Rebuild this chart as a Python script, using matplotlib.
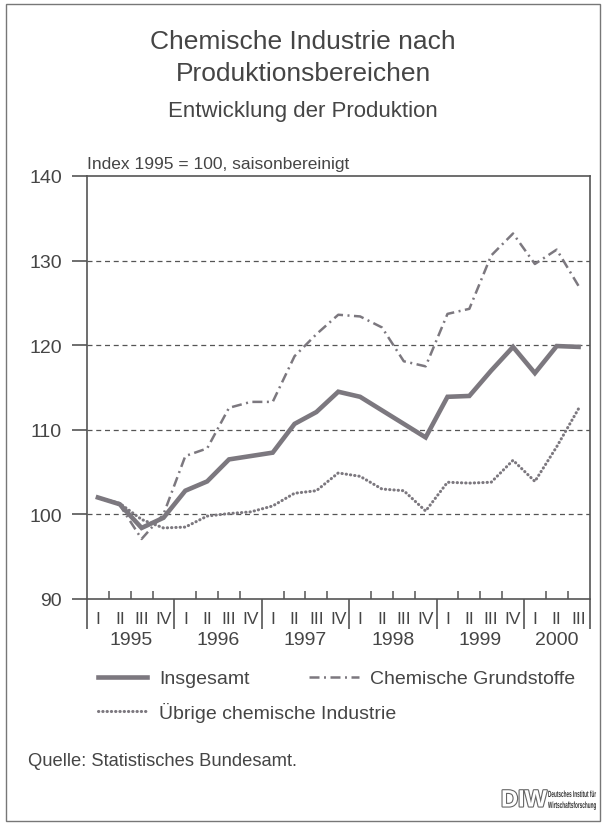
import matplotlib
matplotlib.use("Agg")
import matplotlib.pyplot as plt
from matplotlib.patches import Rectangle, PathPatch
from matplotlib.transforms import blended_transform_factory, Affine2D
from matplotlib.textpath import TextPath
from matplotlib.font_manager import FontProperties
import matplotlib.patheffects as pe

plt.rcParams['font.family'] = ['Liberation Sans', 'DejaVu Sans']

# quarterly index values, 1995 Q1 .. 2000 Q3
quarter_names = ["I", "II", "III", "IV"]
years = ["1995", "1996", "1997", "1998", "1999", "2000"]
insgesamt = [102.0, 101.2, 98.4, 99.6, 102.8, 103.9, 106.5, 106.9, 107.3, 110.7, 112.1, 114.5,
             113.9, 112.3, 110.7, 109.1, 113.9, 114.0, 117.0, 119.8, 116.7, 119.9, 119.8]
grundstoffe = [102.0, 101.1, 97.1, 100.0, 106.9, 107.8, 112.6, 113.3, 113.3, 118.7, 121.3, 123.6,
               123.4, 122.1, 118.1, 117.5, 123.7, 124.3, 130.6, 133.2, 129.6, 131.3, 127.0]
uebrige = [102.0, 101.3, 99.4, 98.4, 98.5, 99.8, 100.1, 100.3, 101.0, 102.5, 102.8, 104.9,
           104.5, 103.0, 102.8, 100.4, 103.8, 103.7, 103.8, 106.4, 103.9, 108.0, 112.5]
y_ticks = [90, 100, 110, 120, 130, 140]

txt = '#454545'
linec = '#7c787f'
axc = '#555555'

n = len(insgesamt)
xs = [i + 0.5 for i in range(n)]

fig = plt.figure(figsize=(6.06, 8.28), dpi=100)
ax = fig.add_axes([87/606, 228/828, (589.5-87)/606, (600-177)/828])

l1, = ax.plot(xs, insgesamt, color=linec, lw=3.3, solid_joinstyle='miter', label='Insgesamt')
l2, = ax.plot(xs, grundstoffe, color=linec, lw=1.8, linestyle=(0, (4, 1.8, 0.8, 1.8)),
              label='Chemische Grundstoffe')
l3, = ax.plot(xs, uebrige, color=linec, lw=2.2, linestyle=(0, (0.1, 1.3)), dash_capstyle='round',
              label='Übrige chemische Industrie')

ax.set_xlim(0, n)
ax.set_ylim(90, 140)

# grid
for v in y_ticks[1:-1]:
    ax.axhline(v, color=axc, lw=0.9, linestyle=(0, (4, 3)), zorder=0)

for s in ax.spines.values():
    s.set_color(axc)
    s.set_linewidth(1.2)

ax.set_yticks(y_ticks)
ax.tick_params(axis='y', direction='out', length=11, width=1.2, color=axc,
               labelsize=14, labelcolor=txt, pad=7)

# quarter ticks pointing inward at boundaries
bounds = [i for i in range(1, n) if i % 4 != 0]
ax.set_xticks(bounds)
ax.set_xticklabels([])
ax.tick_params(axis='x', which='major', direction='in', length=6, width=1.1, color=axc)
ax.set_xticks(xs, minor=True)
ax.set_xticklabels([quarter_names[i % 4] for i in range(n)], minor=True)
ax.tick_params(axis='x', which='minor', length=0, labelsize=12.5, labelcolor=txt, pad=9)

trans = blended_transform_factory(ax.transData, ax.transAxes)
year_bounds = list(range(0, n, 4)) + [n]
ax.vlines(year_bounds, -0.072, 0, transform=trans, color=axc, lw=1.2, clip_on=False)
for k, yr in enumerate(years):
    x0 = k * 4
    x1 = min(k * 4 + 4, n)
    ax.text((x0 + x1) / 2, -0.095, yr, transform=trans, ha='center', va='center',
            fontsize=14, color=txt)

ax.text(0, 1.012, "Index 1995 = 100, saisonbereinigt", transform=ax.transAxes,
        ha='left', va='bottom', fontsize=12.5, color=txt)

fig.text(0.5, 1 - 42/828, "Chemische Industrie nach", ha='center', va='center',
         fontsize=19, color=txt)
fig.text(0.5, 1 - 74/828, "Produktionsbereichen", ha='center', va='center',
         fontsize=19, color=txt)
fig.text(0.5, 1 - 111/828, "Entwicklung der Produktion", ha='center', va='center',
         fontsize=16, color=txt)

leg_kw = dict(loc='upper left', frameon=False, fontsize=14, handlelength=2.55,
              handletextpad=0.6, labelspacing=0.75, borderpad=0, labelcolor=txt)
fig.legend([l1, l3], [l1.get_label(), l3.get_label()],
           bbox_to_anchor=(0.145, 1 - 661/828), **leg_kw)
fig.legend([l2], [l2.get_label()], bbox_to_anchor=(0.494, 1 - 661/828), **leg_kw)

fig.text(28/606, 1 - 762/828, "Quelle: Statistisches Bundesamt.", ha='left', va='center',
         fontsize=13.2, color=txt)

# DIW logo
fig.text(524/606, 1 - 801/828, "DIW", ha='center', va='center', fontsize=17, color='white',
         fontweight='bold', path_effects=[pe.withStroke(linewidth=1.6, foreground='#666666')])
fp = FontProperties(family='Liberation Sans', weight='bold')
for k, s in enumerate(["Deutsches Institut für", "Wirtschaftsforschung"]):
    tp = TextPath((0, 0), s, size=9, prop=fp)
    tr = Affine2D().scale(0.52, 1).translate(548, 828 - 798 - k * 11)
    fig.add_artist(PathPatch(tp, transform=tr, facecolor='#333333', edgecolor='none'))

fig.patches.append(Rectangle((6/606, 6/828), 594/606, 817/828, transform=fig.transFigure,
                             fill=False, edgecolor='#777777', lw=1))

fig.savefig("out.png", dpi=100, facecolor='white')
